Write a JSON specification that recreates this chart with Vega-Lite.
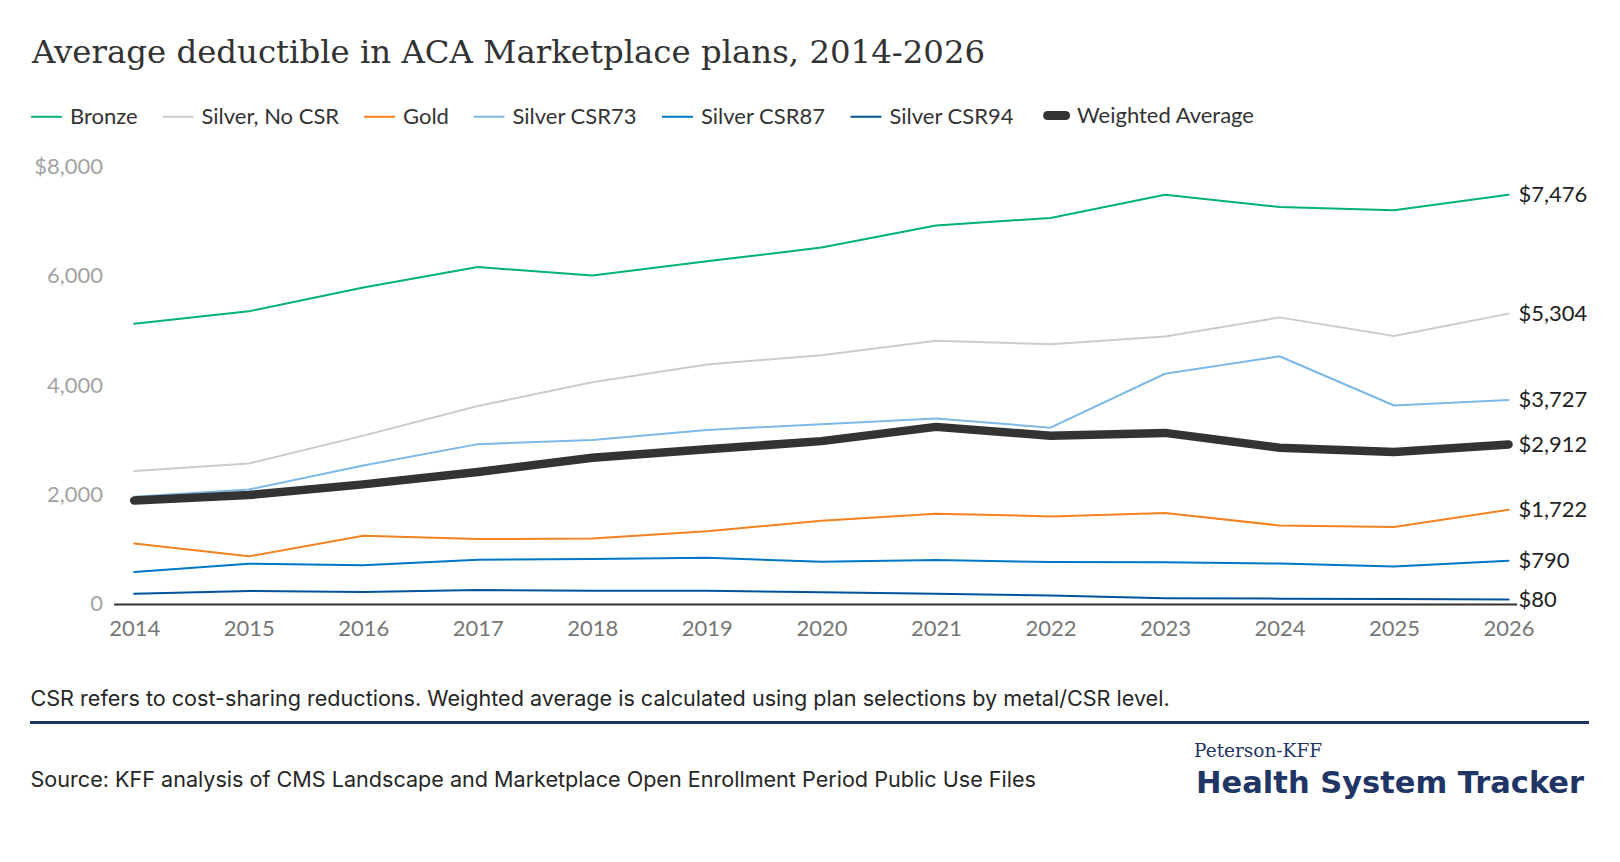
{
  "$schema": "https://vega.github.io/schema/vega-lite/v6.json",
  "width": 1403,
  "height": 438,
  "autosize": {"type": "none"},
  "padding": {"left": 113.6, "top": 166, "right": 103, "bottom": 258},
  "background": "white",
  "config": {"view": {"stroke": null}, "font": "Lato"},
  "title": {
    "text": "Average deductible in ACA Marketplace plans, 2014-2026",
    "anchor": "start", "frame": "group", "orient": "top", "offset": 5, "dx": -81.6,
    "baseline": "alphabetic", "font": "DejaVu Serif", "fontSize": 32.4, "fontWeight": "normal", "color": "#333333"
  },
  "data": {"values": [
    {"year": 2014, "series": "Bronze", "value": 5120},
    {"year": 2015, "series": "Bronze", "value": 5345},
    {"year": 2016, "series": "Bronze", "value": 5780},
    {"year": 2017, "series": "Bronze", "value": 6155},
    {"year": 2018, "series": "Bronze", "value": 6000},
    {"year": 2019, "series": "Bronze", "value": 6260},
    {"year": 2020, "series": "Bronze", "value": 6510},
    {"year": 2021, "series": "Bronze", "value": 6915},
    {"year": 2022, "series": "Bronze", "value": 7050},
    {"year": 2023, "series": "Bronze", "value": 7475},
    {"year": 2024, "series": "Bronze", "value": 7250},
    {"year": 2025, "series": "Bronze", "value": 7190},
    {"year": 2026, "series": "Bronze", "value": 7476},
    {"year": 2014, "series": "Silver, No CSR", "value": 2430},
    {"year": 2015, "series": "Silver, No CSR", "value": 2565},
    {"year": 2016, "series": "Silver, No CSR", "value": 3075},
    {"year": 2017, "series": "Silver, No CSR", "value": 3615},
    {"year": 2018, "series": "Silver, No CSR", "value": 4050},
    {"year": 2019, "series": "Silver, No CSR", "value": 4375},
    {"year": 2020, "series": "Silver, No CSR", "value": 4545},
    {"year": 2021, "series": "Silver, No CSR", "value": 4810},
    {"year": 2022, "series": "Silver, No CSR", "value": 4745},
    {"year": 2023, "series": "Silver, No CSR", "value": 4885},
    {"year": 2024, "series": "Silver, No CSR", "value": 5235},
    {"year": 2025, "series": "Silver, No CSR", "value": 4895},
    {"year": 2026, "series": "Silver, No CSR", "value": 5304},
    {"year": 2014, "series": "Gold", "value": 1105},
    {"year": 2015, "series": "Gold", "value": 870},
    {"year": 2016, "series": "Gold", "value": 1245},
    {"year": 2017, "series": "Gold", "value": 1185},
    {"year": 2018, "series": "Gold", "value": 1195},
    {"year": 2019, "series": "Gold", "value": 1330},
    {"year": 2020, "series": "Gold", "value": 1520},
    {"year": 2021, "series": "Gold", "value": 1650},
    {"year": 2022, "series": "Gold", "value": 1600},
    {"year": 2023, "series": "Gold", "value": 1660},
    {"year": 2024, "series": "Gold", "value": 1435},
    {"year": 2025, "series": "Gold", "value": 1405},
    {"year": 2026, "series": "Gold", "value": 1722},
    {"year": 2014, "series": "Silver CSR73", "value": 1960},
    {"year": 2015, "series": "Silver CSR73", "value": 2090},
    {"year": 2016, "series": "Silver CSR73", "value": 2530},
    {"year": 2017, "series": "Silver CSR73", "value": 2920},
    {"year": 2018, "series": "Silver CSR73", "value": 2995},
    {"year": 2019, "series": "Silver CSR73", "value": 3180},
    {"year": 2020, "series": "Silver CSR73", "value": 3285},
    {"year": 2021, "series": "Silver CSR73", "value": 3390},
    {"year": 2022, "series": "Silver CSR73", "value": 3220},
    {"year": 2023, "series": "Silver CSR73", "value": 4205},
    {"year": 2024, "series": "Silver CSR73", "value": 4525},
    {"year": 2025, "series": "Silver CSR73", "value": 3625},
    {"year": 2026, "series": "Silver CSR73", "value": 3727},
    {"year": 2014, "series": "Silver CSR87", "value": 584},
    {"year": 2015, "series": "Silver CSR87", "value": 736},
    {"year": 2016, "series": "Silver CSR87", "value": 706},
    {"year": 2017, "series": "Silver CSR87", "value": 810},
    {"year": 2018, "series": "Silver CSR87", "value": 820},
    {"year": 2019, "series": "Silver CSR87", "value": 845},
    {"year": 2020, "series": "Silver CSR87", "value": 770},
    {"year": 2021, "series": "Silver CSR87", "value": 805},
    {"year": 2022, "series": "Silver CSR87", "value": 765},
    {"year": 2023, "series": "Silver CSR87", "value": 761},
    {"year": 2024, "series": "Silver CSR87", "value": 740},
    {"year": 2025, "series": "Silver CSR87", "value": 685},
    {"year": 2026, "series": "Silver CSR87", "value": 790},
    {"year": 2014, "series": "Silver CSR94", "value": 185},
    {"year": 2015, "series": "Silver CSR94", "value": 237},
    {"year": 2016, "series": "Silver CSR94", "value": 220},
    {"year": 2017, "series": "Silver CSR94", "value": 256},
    {"year": 2018, "series": "Silver CSR94", "value": 240},
    {"year": 2019, "series": "Silver CSR94", "value": 240},
    {"year": 2020, "series": "Silver CSR94", "value": 215},
    {"year": 2021, "series": "Silver CSR94", "value": 185},
    {"year": 2022, "series": "Silver CSR94", "value": 155},
    {"year": 2023, "series": "Silver CSR94", "value": 104},
    {"year": 2024, "series": "Silver CSR94", "value": 98},
    {"year": 2025, "series": "Silver CSR94", "value": 92},
    {"year": 2026, "series": "Silver CSR94", "value": 80},
    {"year": 2014, "series": "Weighted Average", "value": 1890},
    {"year": 2015, "series": "Weighted Average", "value": 1990},
    {"year": 2016, "series": "Weighted Average", "value": 2185},
    {"year": 2017, "series": "Weighted Average", "value": 2410},
    {"year": 2018, "series": "Weighted Average", "value": 2670},
    {"year": 2019, "series": "Weighted Average", "value": 2825},
    {"year": 2020, "series": "Weighted Average", "value": 2975},
    {"year": 2021, "series": "Weighted Average", "value": 3235},
    {"year": 2022, "series": "Weighted Average", "value": 3075},
    {"year": 2023, "series": "Weighted Average", "value": 3125},
    {"year": 2024, "series": "Weighted Average", "value": 2855},
    {"year": 2025, "series": "Weighted Average", "value": 2775},
    {"year": 2026, "series": "Weighted Average", "value": 2912}
  ]},
  "encoding": {
    "x": {
      "field": "year", "type": "quantitative",
      "scale": {"domain": [2013.82, 2026.07], "nice": false, "zero": false},
      "axis": {
        "values": [2014, 2015, 2016, 2017, 2018, 2019, 2020, 2021, 2022, 2023, 2024, 2025, 2026],
        "format": "d", "grid": false, "ticks": false,
        "domain": true, "domainColor": "#333333", "domainWidth": 2,
        "labelFont": "Lato", "labelFontSize": 22, "labelColor": "#777777", "labelPadding": 15,
        "title": ["CSR refers to cost-sharing reductions. Weighted average is calculated using plan selections by metal/CSR level.", "Source: KFF analysis of CMS Landscape and Marketplace Open Enrollment Period Public Use Files"],
        "titleX": -83.6, "titleY": 102, "titleAlign": "left", "titleAnchor": "start", "titleBaseline": "alphabetic",
        "titleLineHeight": 80.7, "titleFont": "Inter", "titleFontSize": 21.6, "titleFontWeight": "normal", "titleColor": "#262626"
      }
    }
  },
  "layer": [
    {
      "mark": {"type": "rule", "color": "#1f3566", "strokeWidth": 2.5, "clip": false},
      "encoding": {
        "x": {"datum": 2013.0925},
        "x2": {"datum": 2026.696},
        "y": {"datum": -2164, "axis": null}
      }
    },
    {
      "transform": [{"filter": "datum.series != 'Weighted Average'"}],
      "mark": {"type": "line", "strokeWidth": 2, "strokeCap": "round", "strokeJoin": "round", "clip": false},
      "encoding": {
        "y": {
          "field": "value", "type": "quantitative",
          "scale": {"domain": [0, 8000], "nice": false},
          "axis": {
            "orient": "left",
            "values": [0, 2000, 4000, 6000, 8000],
            "labelExpr": "datum.value == 8000 ? '$8,000' : format(datum.value, ',')",
            "grid": false, "ticks": false, "domain": false,
            "labelFont": "Lato", "labelFontSize": 22, "labelColor": "#a3a3a3", "labelPadding": 11,
            "title": "Peterson-KFF", "titleAngle": 0, "titleX": 1080, "titleY": 591,
            "titleAlign": "left", "titleBaseline": "alphabetic", "titleFont": "DejaVu Serif",
            "titleFontSize": 18.5, "titleFontWeight": "normal", "titleColor": "#1f3566"
          }
        },
        "color": {
          "field": "series", "type": "nominal",
          "scale": {
            "domain": ["Bronze", "Silver, No CSR", "Gold", "Silver CSR73", "Silver CSR87", "Silver CSR94"],
            "range": ["#00b17a", "#cccccc", "#f58220", "#7cb9e8", "#0077c8", "#00539b"]
          },
          "legend": {
            "orient": "none", "legendX": -83.6, "legendY": -66, "direction": "horizontal", "title": null,
            "symbolType": "stroke", "symbolSize": 961, "symbolStrokeWidth": 2, "labelFont": "Lato", "labelFontSize": 22, "labelLimit": 400,
            "labelColor": "#333333", "columnPadding": 20.5, "labelOffset": 7
          }
        }
      }
    },
    {
      "transform": [{"filter": "datum.series == 'Weighted Average'"}],
      "mark": {"type": "line", "strokeWidth": 8.5, "strokeCap": "round", "strokeJoin": "round", "clip": false},
      "encoding": {
        "y": {"field": "value", "type": "quantitative", "axis": null},
        "stroke": {
          "field": "series", "type": "nominal",
          "scale": {"domain": ["Weighted Average"], "range": ["#333333"]},
          "legend": {
            "orient": "none", "legendX": 929.5, "legendY": -64, "direction": "horizontal", "title": null,
            "symbolType": "stroke", "symbolSize": 324, "symbolStrokeWidth": 9, "labelFont": "Lato", "labelFontSize": 22, "labelLimit": 400,
            "labelColor": "#333333", "labelOffset": 7,
            "encode": {"symbols": {"update": {"strokeCap": {"value": "round"}}}}
          }
        }
      }
    },
    {
      "transform": [{"filter": "datum.year == 2026"}],
      "mark": {"type": "text", "align": "left", "baseline": "middle", "dx": 10, "font": "Lato", "fontSize": 22, "color": "#222222", "clip": false},
      "encoding": {
        "text": {"field": "value", "type": "quantitative", "format": "$,.0f"},
        "y": {
          "field": "value", "type": "quantitative",
          "axis": {
            "orient": "right", "labels": false, "ticks": false, "domain": false, "grid": false,
            "title": "Health System Tracker", "titleAngle": 0, "titleX": -321, "titleY": 627,
            "titleAlign": "left", "titleBaseline": "alphabetic", "titleFont": "DejaVu Sans",
            "titleFontSize": 30.5, "titleFontWeight": "bold", "titleColor": "#1f3566"
          }
        }
      }
    }
  ],
  "resolve": {"axis": {"y": "independent"}}
}
